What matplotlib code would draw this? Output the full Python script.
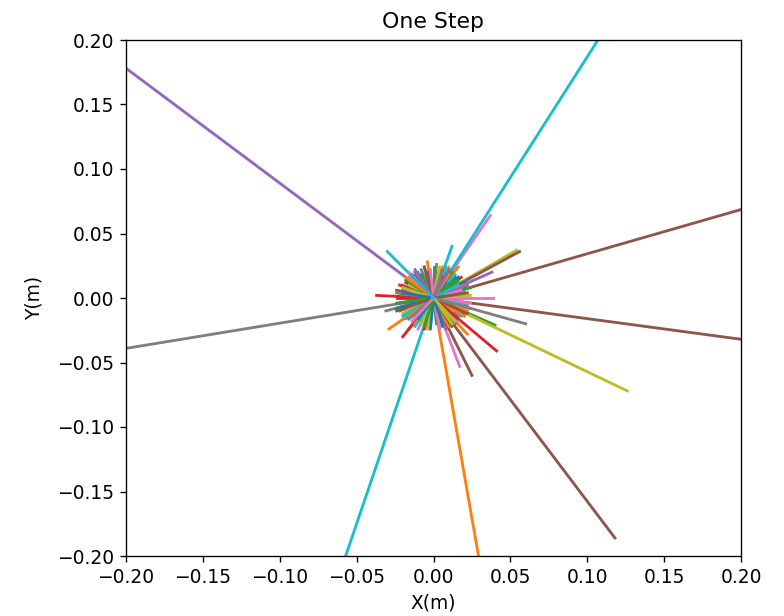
import numpy as np
import matplotlib
matplotlib.use('Agg')
import matplotlib.pyplot as plt

# end points of each step, every step starts at the origin
# ordered so the default colour cycle gives the colours of the picture
dx = [0.012, 0.030, 0.040, 0.041, -0.210, 0.210, 0.037, -0.210, 0.126, 0.115,
      -0.018, -0.029, 0.015, -0.020, 0.038, 0.118, 0.039, 0.060, 0.054, -0.060,
      0.010, -0.004, -0.022, -0.037, 0.008, 0.210, 0.017, -0.031, 0.020, -0.030,
      -0.008, 0.016, 0.018, 0.006, -0.014, 0.025, -0.016, 0.004, -0.012, 0.012,
      0.020, -0.018, -0.010, 0.014, 0.022, 0.056, -0.006, -0.020, 0.006, 0.018,
      -0.014, 0.022, 0.006, -0.018, -0.004, 0.014, 0.022, 0.012, -0.020, -0.010,
      0.004, 0.008, -0.022, 0.018, -0.020, -0.012, 0.012, 0.016, -0.006, -0.018,
      -0.022, -0.010, 0.012, -0.006, 0.016, -0.016, -0.022, 0.008, 0.018, 0.004,
      0.016, -0.006, -0.014, 0.010, -0.008, 0.020, 0.006, -0.012, 0.010, 0.020,
      -0.004, 0.018, 0.002, -0.016, 0.010, -0.004, -0.018, 0.002, -0.016, 0.014,
      0.020, -0.012, 0.000, -0.024, 0.014, 0.010, 0.024, -0.008, -0.020, 0.020,
      -0.016, 0.006, 0.024, -0.004, -0.022, 0.016, 0.004, 0.020, 0.012, -0.014,
      0.008, 0.022, -0.018, 0.014, 0.002, -0.024, -0.010, 0.016, -0.004, 0.008,
      -0.024, -0.012, 0.010, 0.018, -0.016, 0.006, 0.016, -0.010, 0.024, -0.006,
      0.016, 0.010, -0.008, -0.022, 0.020, -0.014, -0.016, 0.010, 0.016, -0.020,
      -0.002, 0.020, 0.014, 0.004, -0.012, 0.022, 0.014, -0.024, -0.008, 0.020,
      0.020, -0.016, -0.024, 0.010, 0.008, -0.006, -0.016, 0.014, 0.004, -0.012,
      -0.010, 0.020, 0.014, -0.014, 0.022, 0.012, -0.002, -0.016, 0.012, 0.016,
      0.006, -0.018, 0.016, 0.016, -0.012, -0.024, 0.018, 0.006, -0.020, 0.016,
      -0.020, 0.010, -0.006, -0.012, 0.010, 0.022, -0.014, 0.024, 0.014, -0.014]
dy = [0.018, -0.205, -0.021, -0.041, 0.187, 0.072, 0.064, -0.041, -0.072, 0.215,
      0.008, -0.024, -0.012, -0.030, 0.020, -0.186, 0.000, -0.020, 0.037, -0.210,
      -0.016, 0.028, 0.004, 0.002, 0.022, -0.0336, -0.053, -0.010, 0.012, 0.036,
      -0.018, 0.024, 0.006, -0.022, 0.016, -0.060, 0.020, 0.020, -0.014, 0.040,
      0.004, -0.006, -0.018, 0.016, -0.006, 0.036, -0.020, 0.010, -0.018, -0.014,
      -0.012, -0.028, 0.018, 0.012, -0.022, -0.018, 0.010, -0.020, -0.004, 0.020,
      0.022, -0.012, -0.010, -0.010, 0.006, 0.018, -0.018, 0.012, 0.016, -0.016,
      -0.004, 0.014, 0.020, -0.024, -0.014, -0.016, 0.004, -0.016, -0.006, -0.022,
      -0.008, -0.022, 0.012, 0.008, -0.014, 0.008, 0.020, -0.018, 0.024, 0.002,
      0.016, 0.002, -0.020, -0.024, 0.014, 0.020, -0.010, 0.026, 0.010, 0.018,
      -0.012, -0.020, 0.024, 0.000, 0.010, -0.022, -0.004, 0.022, -0.012, 0.012,
      0.014, 0.024, 0.008, -0.018, -0.008, 0.016, -0.024, -0.014, -0.010, -0.014,
      0.012, -0.010, 0.014, -0.020, 0.018, 0.006, -0.024, 0.004, -0.024, 0.024,
      -0.008, 0.020, -0.018, 0.016, -0.016, 0.016, -0.018, 0.010, 0.002, 0.024,
      0.016, -0.022, 0.018, 0.010, 0.004, -0.010, 0.016, 0.020, -0.016, -0.014,
      -0.024, -0.014, 0.014, 0.020, 0.022, -0.012, 0.004, 0.004, -0.020, -0.006,
      0.012, -0.014, -0.004, 0.022, -0.024, 0.024, 0.006, -0.020, 0.024, -0.022,
      -0.016, 0.010, -0.014, 0.018, 0.010, -0.022, 0.022, -0.016, -0.020, -0.016,
      -0.020, 0.016, 0.014, -0.016, 0.020, -0.010, 0.006, 0.022, 0.008, 0.010,
      0.004, 0.018, -0.022, 0.016, 0.022, 0.004, -0.018, -0.008, -0.018, 0.018]

plt.rcParams['font.size'] = 11.2
fig = plt.figure(figsize=(784 / 120, 616 / 120), dpi=120)
ax = fig.add_axes([126 / 784, 60 / 616, 615 / 784, 516 / 616])

for x, y in zip(dx, dy):
    ax.plot([0, x], [0, y], lw=1.7)

ax.set_xlim(-0.2, 0.2)
ax.set_ylim(-0.2, 0.2)
ax.set_title('One Step', fontsize=13.2, pad=7)
ax.set_xlabel('X(m)', labelpad=4)
ax.set_ylabel('Y(m)', labelpad=8)

fig.savefig('out.png', dpi=120)
